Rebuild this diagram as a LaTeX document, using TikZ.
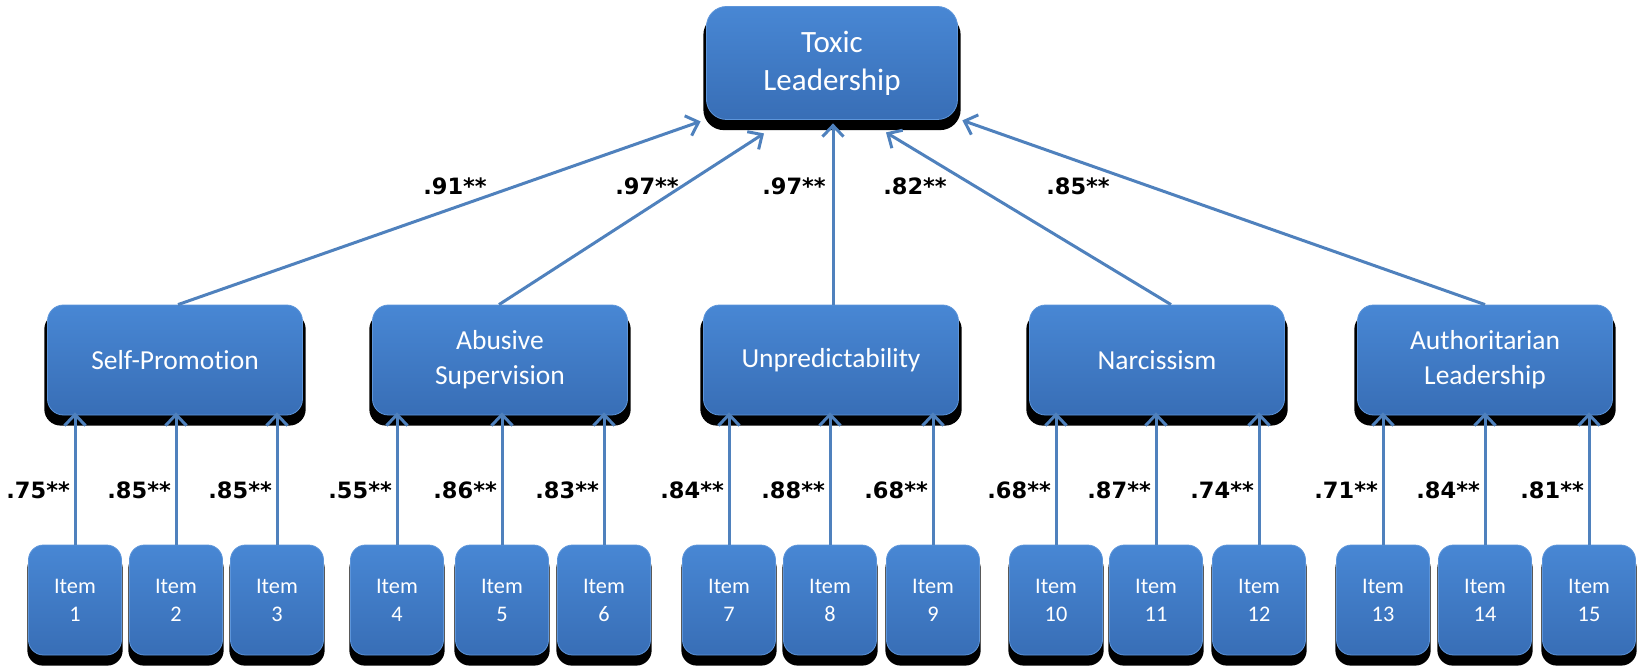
\documentclass[tikz,border=0pt]{standalone}
\usepackage{fontspec}
\setmainfont{Carlito}[Ligatures=CommonOff]
\newfontfamily\coeffont{DejaVu Sans}
\usetikzlibrary{arrows.meta,shadows,calc}

\definecolor{boxtop}{HTML}{4887D4}
\definecolor{boxbot}{HTML}{386EB6}
\definecolor{boxrim}{HTML}{5D95DA}
\definecolor{linkblue}{HTML}{4F81BD}

\tikzset{
  bluebox/.style={rounded corners=16pt, top color=boxtop, bottom color=boxbot,
    draw=boxrim, line width=0.8pt, text=white, align=center, inner sep=0pt,
    drop shadow={shadow xshift=0pt, shadow yshift=-9pt, shadow scale=1.025, fill=black, opacity=1}},
  topbox/.style={bluebox, rounded corners=20pt, minimum width=251pt, minimum height=113pt,
    font=\fontsize{31}{38}\selectfont},
  midbox/.style={bluebox, minimum width=255pt, minimum height=110pt,
    font=\fontsize{27.5}{35}\selectfont},
  itembox/.style={bluebox, rounded corners=15pt, minimum width=93pt, minimum height=110pt,
    font=\fontsize{22.3}{28}\selectfont},
  link/.style={draw=linkblue, line width=3pt, -{Straight Barb[length=11pt,width=21pt]}},
  coef/.style={font=\coeffont\bfseries\fontsize{22.5}{26}\selectfont, inner sep=0pt},
}

\begin{document}
\begin{tikzpicture}[x=1pt, y=-1pt]
\useasboundingbox (0,0) rectangle (1638,668);

% higher-order factor
\node[topbox] (top) at (832,63) {Toxic\\Leadership};

% first-order factors
\node[midbox] (sp) at (175,360)  {Self-Promotion};
\node[midbox] (as) at (500,360)  {Abusive\\Supervision};
\node[midbox] (un) at (831,360)  {Unpredictability};
\node[midbox] (na) at (1157,360) {Narcissism};
\node[midbox] (au) at (1485,360) {Authoritarian\\Leadership};

% factor loadings on the higher-order factor
\draw[link] ([xshift=3pt]sp.north)   -- ($(top.south west)+(-5.5,1.5)$);
\draw[link] ([xshift=-1pt]as.north)  -- ($(top.south)+(-68,13.5)$);
\draw[link] ([xshift=2pt]un.north)   -- ($(top.south)+(1,3.5)$);
\draw[link] ([xshift=14pt]na.north)  -- ($(top.south)+(54,12.5)$);
\draw[link] (au.north)               -- ($(top.south east)+(4.5,0.5)$);

\node[coef] (l1) at (455,186)  {.91**};
\node[coef] (l2) at (647,186)  {.97**};
\node[coef] (l3) at (794,186)  {.97**};
\node[coef] (l4) at (915,186)  {.82**};
\node[coef] (l5) at (1078,186) {.85**};

% items with their loadings
\foreach \i/\x/\f/\val in {
  1/75/sp/.75, 2/176/sp/.85, 3/277/sp/.85,
  4/397/as/.55, 5/502/as/.86, 6/604/as/.83,
  7/729/un/.84, 8/830/un/.88, 9/933/un/.68,
  10/1056/na/.68, 11/1156/na/.87, 12/1259/na/.74,
  13/1383/au/.71, 14/1485/au/.84, 15/1589/au/.81}{
  \node[itembox] (it\i) at (\x,600) {Item\\\i};
  \draw[link, shorten >=-3pt] (it\i.north) -- (it\i.north |- \f.south);
  \node[coef, anchor=east] (c\i) at (\x-5,490) {\val**};
}
\end{tikzpicture}
\end{document}
